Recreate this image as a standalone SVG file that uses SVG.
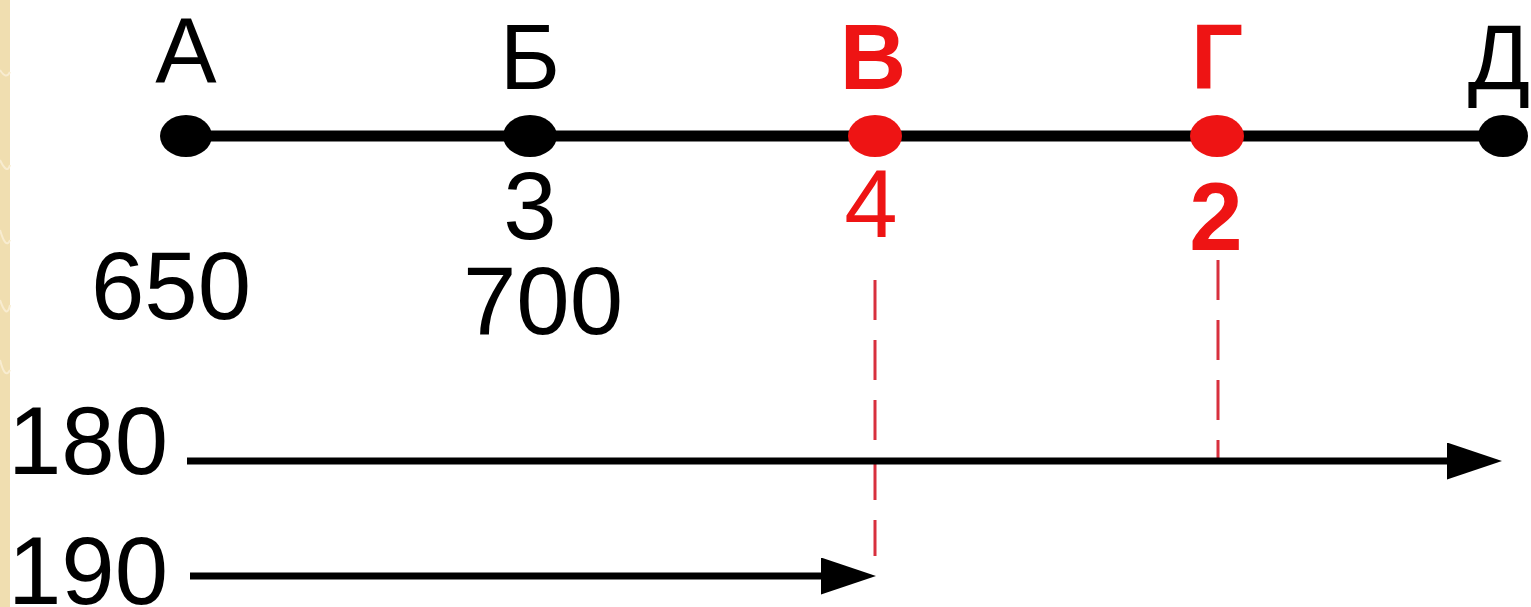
<svg xmlns="http://www.w3.org/2000/svg" width="1531" height="607" viewBox="0 0 1531 607">
  <style>
    .lbl { font-family: "Liberation Sans", Arial, sans-serif; font-size: 92px; text-anchor: middle; fill: #000; }
    .num { font-family: "Liberation Sans", Arial, sans-serif; font-size: 96px; text-anchor: middle; fill: #000; }
    .red { fill: #ee1414; }
    .bold { font-weight: bold; }
    .dot { fill: #000; }
    .rdot { fill: #ee1414; }
    .dash { stroke: #d8303e; stroke-width: 3; stroke-dasharray: 40 20; fill: none; }
    .arrow { stroke: #000; stroke-width: 7; fill: none; }
  </style>
  <defs>
    <marker id="ah" markerUnits="userSpaceOnUse" markerWidth="56" markerHeight="38" refX="0" refY="18.5" orient="auto">
      <path d="M0,0 L55,18.5 L0,37 Z" fill="#000"/>
    </marker>
  </defs>
  <rect x="0" y="0" width="1531" height="607" fill="#ffffff"/>
  <g id="border">
    <rect x="0" y="0" width="10" height="607" fill="#f0deb0"/>
    <path d="M0,70 Q6,80 10,72 M0,160 Q7,175 10,165 M0,230 Q6,250 10,240 M0,300 Q7,320 10,305 M0,360 Q5,380 10,370" stroke="#f8ecd0" stroke-width="2" fill="none"/>
  </g>
  <g id="main-line">
    <line x1="186" y1="136" x2="1503" y2="136" stroke="#000" stroke-width="11"/>
  </g>
  <g id="node-A">
    <ellipse class="dot" cx="186" cy="136" rx="26" ry="21"/>
    <text class="lbl" x="186" y="83">А</text>
    <text class="num" x="171" y="319">650</text>
  </g>
  <g id="node-B">
    <ellipse class="dot" cx="530" cy="136" rx="27" ry="21"/>
    <text class="lbl" x="530" y="89">Б</text>
    <text class="num" x="530" y="239">3</text>
    <text class="num" x="543" y="334">700</text>
  </g>
  <g id="node-V">
    <ellipse class="rdot" cx="875" cy="136" rx="27" ry="21"/>
    <text class="lbl red bold" x="873" y="89">В</text>
    <text class="num red" x="871" y="237">4</text>
  </g>
  <g id="node-G">
    <ellipse class="rdot" cx="1217" cy="136" rx="27" ry="21"/>
    <text class="lbl red bold" x="1217" y="89">Г</text>
    <text class="num red bold" x="1216" y="250">2</text>
  </g>
  <g id="node-D">
    <ellipse class="dot" cx="1503" cy="136" rx="25" ry="21"/>
    <text class="lbl" x="1499" y="89">Д</text>
  </g>
  <g id="connectors">
    <line class="dash" x1="875" y1="280" x2="875" y2="556"/>
    <line class="dash" x1="1218" y1="260" x2="1218" y2="464"/>
    <line class="arrow" x1="187" y1="461" x2="1447" y2="461" marker-end="url(#ah)"/>
    <line class="arrow" x1="190" y1="576" x2="821" y2="576" marker-end="url(#ah)"/>
  </g>
  <g id="arrow-labels">
    <text class="num" x="88" y="474">180</text>
    <text class="num" x="88" y="604">190</text>
  </g>
</svg>
